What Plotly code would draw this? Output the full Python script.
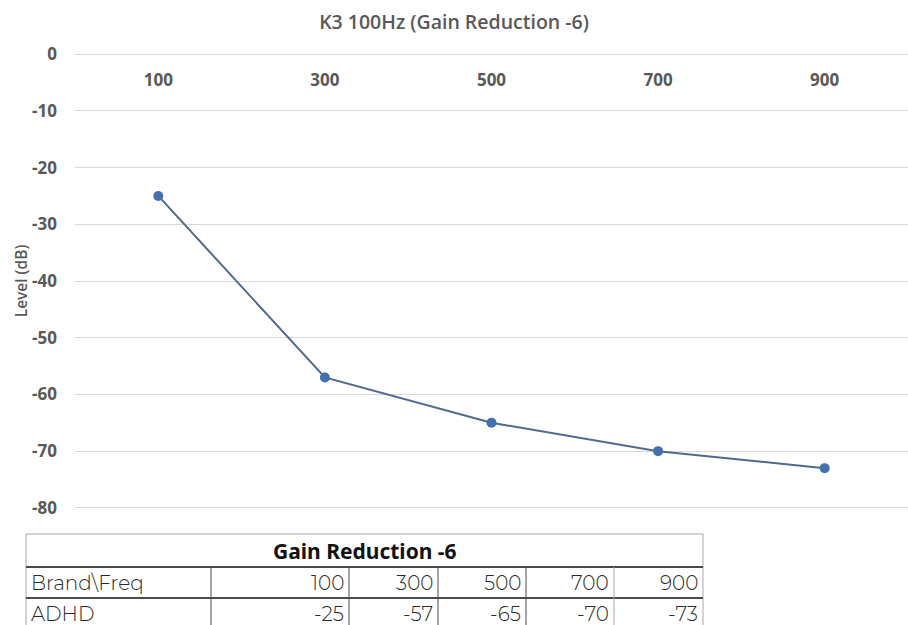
import plotly.graph_objects as go

# ---- data ----
freqs = ["100", "300", "500", "700", "900"]
levels = [-25, -57, -65, -70, -73]
y_ticks = [0, -10, -20, -30, -40, -50, -60, -70, -80]
y_tick_labels = ["0", "-10", "-20", "-30", "-40", "-50", "-60", "-70", "-80"]
table_title = "Gain Reduction -6"
row_header = "Brand\\Freq"
brand = "ADHD"

W, H = 908, 625
ML, MR, MT, MB = 75, 0, 53, 116
PW, PH = W - ML - MR, H - MT - MB


def px(x):
    return (x - ML) / PW


def py(y):
    return (H - MB - y) / PH


fig = go.Figure()
fig.add_trace(go.Scatter(
    x=freqs, y=levels, mode="lines+markers",
    line=dict(color="#50698e", width=2),
    marker=dict(color="#4570ad", size=10),
    showlegend=False, cliponaxis=False,
))

grey = "#595959"
fig.update_layout(
    width=W, height=H,
    margin=dict(l=ML, r=MR, t=MT, b=MB),
    paper_bgcolor="white", plot_bgcolor="white",
    title=dict(text="K3 100Hz (Gain Reduction -6)", x=0.5, xref="container",
               y=1 - 22 / H, yref="container", yanchor="middle", xanchor="center",
               font=dict(family="Open Sans", size=19.5, color=grey, weight=600)),
    xaxis=dict(type="category", range=[-0.5, 4.5], side="bottom",
               anchor="free", position=py(68),
               showgrid=False, zeroline=False, showline=False, ticks="",
               tickfont=dict(family="Open Sans", size=17, color=grey, weight=700)),
    yaxis=dict(range=[-80.2, 0.2], tickvals=y_ticks, ticktext=y_tick_labels, showgrid=True,
               gridcolor="#d9d9d9", gridwidth=1, zeroline=False, showline=False,
               ticks="", ticklabelstandoff=17,
               tickfont=dict(family="Open Sans", size=17, color=grey, weight=700),
               title=dict(text="Level (dB)", standoff=0,
                          font=dict(family="Open Sans", size=15.5, color=grey, weight=600))),
)

# ---- table below the chart ----
col_x = [26, 211, 349, 438, 526, 614, 703]
row_y = [534, 567, 598, 629]
shapes = []
dark = "#4a4a4a"
light = "#a8a8a8"
shapes.append(dict(type="line", xref="paper", yref="paper", x0=px(col_x[0]), x1=px(col_x[-1]),
                   y0=py(row_y[0]), y1=py(row_y[0]), line=dict(color=light, width=1)))
shapes.append(dict(type="line", xref="paper", yref="paper", x0=px(col_x[0]), x1=px(col_x[0]),
                   y0=py(row_y[0]), y1=py(row_y[-1]), line=dict(color=light, width=1)))
shapes.append(dict(type="line", xref="paper", yref="paper", x0=px(col_x[-1]), x1=px(col_x[-1]),
                   y0=py(row_y[0]), y1=py(row_y[-1]), line=dict(color=light, width=1)))
for ry in row_y[1:3]:
    shapes.append(dict(type="line", xref="paper", yref="paper", x0=px(col_x[0]), x1=px(col_x[-1]),
                       y0=py(ry), y1=py(ry), line=dict(color=dark, width=2)))
for i, cx in enumerate(col_x[1:-1]):
    c = dark if i < 4 else light
    shapes.append(dict(type="line", xref="paper", yref="paper", x0=px(cx), x1=px(cx),
                       y0=py(row_y[1]), y1=py(row_y[-1]), line=dict(color=c, width=1)))
fig.update_layout(shapes=shapes)

ann = []
tfont = dict(family="Montserrat, Noto Sans", size=20, color="#2a2a2a", weight=300)
ann.append(dict(text="<b>" + table_title + "</b>", xref="paper", yref="paper",
                x=px((col_x[0] + col_x[-1]) / 2), y=py((row_y[0] + row_y[1]) / 2),
                xanchor="center", yanchor="middle", showarrow=False,
                font=dict(family="Noto Sans", size=21, color="#111111")))
for label, ri in [(row_header, 1), (brand, 2)]:
    ann.append(dict(text=label, xref="paper", yref="paper", x=px(col_x[0] + 3),
                    y=py((row_y[ri] + row_y[ri + 1]) / 2), xanchor="left", yanchor="middle",
                    showarrow=False, font=tfont))
for j, (f, v) in enumerate(zip(freqs, levels)):
    right = col_x[j + 2] - 3
    ann.append(dict(text=f, xref="paper", yref="paper", x=px(right),
                    y=py((row_y[1] + row_y[2]) / 2), xanchor="right", yanchor="middle",
                    showarrow=False, font=tfont))
    ann.append(dict(text=str(v), xref="paper", yref="paper", x=px(right),
                    y=py((row_y[2] + row_y[3]) / 2), xanchor="right", yanchor="middle",
                    showarrow=False, font=tfont))
fig.update_layout(annotations=ann)

fig.write_html("out.html")
